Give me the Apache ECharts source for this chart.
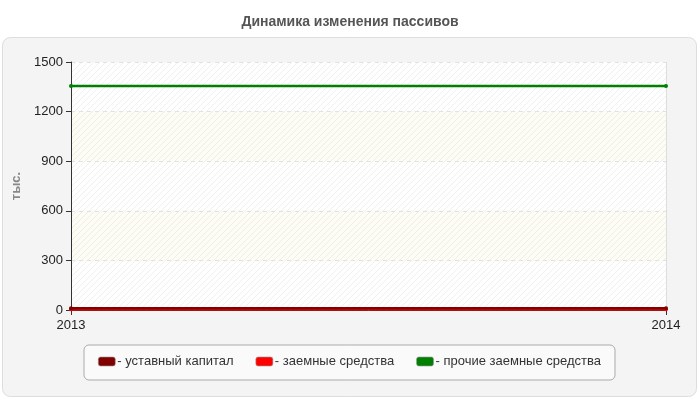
<!DOCTYPE html>
<html><head><meta charset="utf-8">
<script src="https://cdn.jsdelivr.net/npm/echarts@6/dist/echarts.min.js"></script>
<style>html,body{margin:0;padding:0;background:#fff}#c{width:700px;height:400px}</style>
</head><body><div id="c"></div>
<script>
const years = ['2013', '2014'];
const seriesNames = ['уставный капитал', 'заемные средства', 'прочие заемные средства'];
const ustavnyKapital = [10, 10];
const zaemnyeSredstva = [5, 5];
const prochieZaemnye = [1355, 1355];
const yTicks = [0, 300, 600, 900, 1200, 1500];
const colors = ['#800000', '#ff0000', '#008000'];

function hatch(bg) {
  const c = document.createElement('canvas');
  c.width = 6; c.height = 6;
  const g = c.getContext('2d');
  g.fillStyle = bg; g.fillRect(0, 0, 6, 6);
  g.strokeStyle = 'rgba(0,0,0,0.06)'; g.lineWidth = 1;
  g.beginPath(); g.moveTo(0, 6); g.lineTo(6, 0); g.stroke();
  g.beginPath(); g.moveTo(-1, 1); g.lineTo(1, -1); g.stroke();
  g.beginPath(); g.moveTo(5, 7); g.lineTo(7, 5); g.stroke();
  return { image: c, repeat: 'repeat' };
}

const chart = echarts.init(document.getElementById('c'));
const font = 'Liberation Sans, Arial, sans-serif';
const dataArr = [ustavnyKapital, zaemnyeSredstva, prochieZaemnye];
chart.setOption({
  backgroundColor: '#fff',
  textStyle: { fontFamily: font },
  title: {
    text: 'Динамика изменения пассивов', left: 'center', top: 10,
    textStyle: { fontSize: 14, fontWeight: 'bold', color: '#555', fontFamily: font }
  },
  graphic: [{
    type: 'rect', z: -10, silent: true,
    shape: { x: 2.5, y: 37.5, width: 694, height: 359, r: 8 },
    style: { fill: '#f4f4f4', stroke: '#dddddd', lineWidth: 1 }
  }],
  grid: { left: 71, right: 34, top: 62, bottom: 90 },
  legend: {
    left: 84, top: 345,
    padding: [10, 14, 12, 14],
    backgroundColor: '#fafafa', borderColor: '#aaaaaa', borderWidth: 1, borderRadius: 5,
    icon: 'roundRect', itemWidth: 17, itemHeight: 9, itemGap: 22,
    formatter: n => '- ' + n,
    itemStyle: { borderColor: '#999', borderWidth: 0.6 },
    textStyle: { fontSize: 13, color: '#333', fontFamily: font, padding: [0, 0, 0, -3] },
    data: seriesNames
  },
  xAxis: {
    type: 'category', data: years, boundaryGap: false,
    axisLine: { lineStyle: { color: '#333', width: 1 } },
    axisTick: { show: true, length: 5, lineStyle: { color: '#333' } },
    axisLabel: { fontSize: 13, color: '#222', margin: 9, fontFamily: font },
    splitLine: { show: true, lineStyle: { color: '#ddd', type: 'solid' } }
  },
  yAxis: {
    type: 'value', min: yTicks[0], max: yTicks[yTicks.length - 1], interval: 300,
    name: 'тыс.', nameLocation: 'middle', nameGap: 44, nameRotate: 90,
    nameTextStyle: { fontSize: 13, fontWeight: 'bold', color: '#888', fontFamily: font },
    axisLine: { show: true, lineStyle: { color: '#333', width: 1 } },
    axisTick: { show: true, length: 5, lineStyle: { color: '#333' } },
    axisLabel: { fontSize: 13, color: '#222', margin: 8, fontFamily: font, formatter: v => String(v) },
    splitLine: { show: true, lineStyle: { color: '#e2e2e2', type: [4, 4] } },
    splitArea: { show: true, areaStyle: { color: [hatch('#ffffff'), hatch('#fdfdf5')] } }
  },
  series: seriesNames.map((n, i) => ({
    name: n, type: 'line', data: dataArr[i],
    z: i === 0 ? 4 : (i === 1 ? 3 : 5),
    symbol: 'circle', symbolSize: 4, showSymbol: true,
    itemStyle: { color: colors[i] },
    lineStyle: { color: colors[i], width: 2.5 },
    animation: false
  }))
});
</script></body></html>
